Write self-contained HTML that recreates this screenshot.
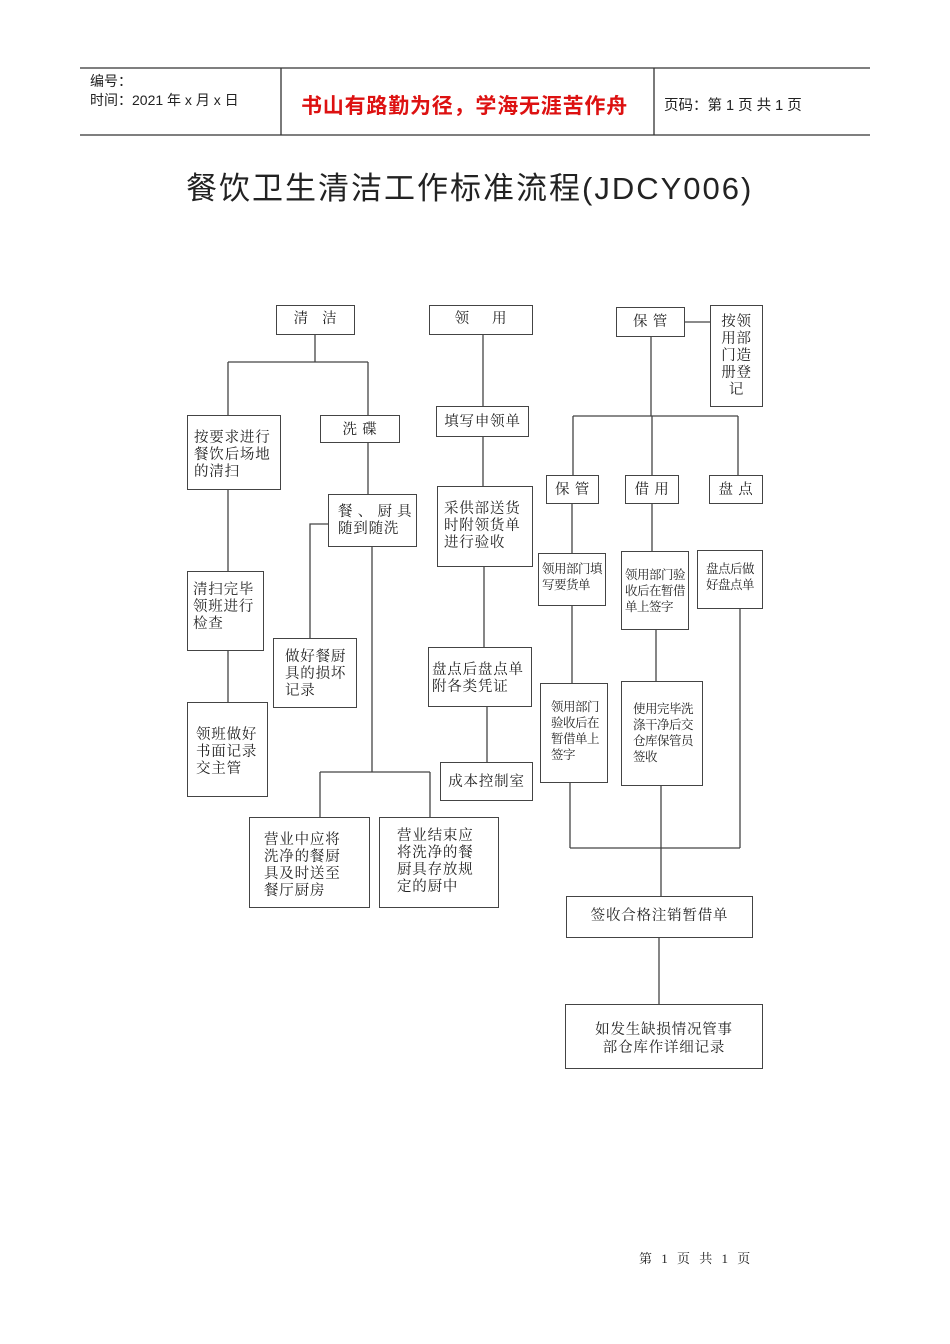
<!DOCTYPE html>
<html><head><meta charset="utf-8"><style>
body{margin:0;width:950px;height:1344px;background:#fff;position:relative;overflow:hidden;font-family:"Liberation Serif","Noto Serif CJK SC",serif;color:#222}
.b{position:absolute;border:1.3px solid #444;box-sizing:border-box;font-size:14.5px;line-height:17px;padding:4px 7px;white-space:nowrap;letter-spacing:0.8px}
.s{font-size:12.5px;line-height:16px;padding:3px 3px;letter-spacing:-0.5px}
.c{text-align:center}
.t{position:absolute;white-space:nowrap}
</style></head><body>
<svg width="950" height="1344" style="position:absolute;left:0;top:0" fill="none" stroke="#444" stroke-width="1.3">
<path d="M80 68H870M80 135H870M281 68V135M654 68V135" stroke="#333"/>
<path d="M315 335V362M228 362H368M228 362V415M368 362V415M228 490V571M228 651V702M368 443V494M328 524H310V638M372 547V772M320 772H430M320 772V817M430 772V817"/>
<path d="M483 335V406M483 437V486M484 567V647M487 707V762"/>
<path d="M651 337V416M685 322H710M573 416H738M573 416V475M652 416V475M738 416V475M572 504V553M572 606V683M652 504V551M570 783V848M570 848H740M740 609V848M656 630V681M661 786V896M659 938V1004"/>
</svg>
<div class="t" style="left:90px;top:71px;font-family:'Liberation Sans','Noto Sans CJK SC',sans-serif;font-size:14px">编号：</div>
<div class="t" style="left:90px;top:90px;font-family:'Liberation Sans','Noto Sans CJK SC',sans-serif;font-size:14px">时间：2021 年 x 月 x 日</div>
<div class="t" style="left:301px;top:90px;color:#d11;font-weight:bold;font-size:21px;letter-spacing:0.8px;font-family:'Noto Sans CJK SC',sans-serif">书山有路勤为径，学海无涯苦作舟</div>
<div class="t" style="left:664px;top:94px;font-size:14.5px;font-family:'Liberation Sans','Noto Sans CJK SC',sans-serif">页码：第 1 页 共 1 页</div>
<div class="t" style="left:186px;top:163px;font-size:31px;letter-spacing:2px;font-family:'Liberation Sans','Noto Sans CJK SC',sans-serif">餐饮卫生清洁工作标准流程(JDCY006)</div>

<div class="b c" style="left:276px;top:305px;width:79px;height:30px;padding-top:5px">清 &nbsp; 洁</div>
<div class="b c" style="left:429px;top:305px;width:104px;height:30px;padding-top:5px">领 &nbsp; &nbsp; 用</div>
<div class="b c" style="left:616px;top:307px;width:69px;height:30px;padding-top:6px">保 管</div>
<div class="b c" style="left:710px;top:305px;width:53px;height:102px;padding:8px 2px">按领<br>用部<br>门造<br>册登<br>记</div>
<div class="b" style="left:187px;top:415px;width:94px;height:75px;padding:14px 6px">按要求进行<br>餐饮后场地<br>的清扫</div>
<div class="b c" style="left:320px;top:415px;width:80px;height:28px;padding-top:6px">洗 碟</div>
<div class="b c" style="left:436px;top:406px;width:93px;height:31px;padding:7px 2px">填写申领单</div>
<div class="b" style="left:437px;top:486px;width:96px;height:81px;padding:14px 6px">采供部送货<br>时附领货单<br>进行验收</div>
<div class="b" style="left:328px;top:494px;width:89px;height:53px;padding:9px 9px">餐 、 厨 具<br>随到随洗</div>
<div class="b" style="left:187px;top:571px;width:77px;height:80px;padding:10px 5px">清扫完毕<br>领班进行<br>检查</div>
<div class="b" style="left:273px;top:638px;width:84px;height:70px;padding:10px 11px">做好餐厨<br>具的损坏<br>记录</div>
<div class="b" style="left:428px;top:647px;width:104px;height:60px;padding:14px 3px">盘点后盘点单<br>附各类凭证</div>
<div class="b" style="left:187px;top:702px;width:81px;height:95px;padding:24px 8px">领班做好<br>书面记录<br>交主管</div>
<div class="b c" style="left:440px;top:762px;width:93px;height:39px;padding:11px 2px">成本控制室</div>
<div class="b" style="left:249px;top:817px;width:121px;height:91px;padding:14px 14px">营业中应将<br>洗净的餐厨<br>具及时送至<br>餐厅厨房</div>
<div class="b" style="left:379px;top:817px;width:120px;height:91px;padding:10px 17px">营业结束应<br>将洗净的餐<br>厨具存放规<br>定的厨中</div>
<div class="b c" style="left:546px;top:475px;width:53px;height:29px;padding:6px 2px">保 管</div>
<div class="b c" style="left:625px;top:475px;width:54px;height:29px;padding:6px 2px">借 用</div>
<div class="b c" style="left:709px;top:475px;width:54px;height:29px;padding:6px 2px">盘 点</div>
<div class="b s" style="left:538px;top:553px;width:68px;height:53px;padding-top:7px">领用部门填<br>写要货单</div>
<div class="b s" style="left:621px;top:551px;width:68px;height:79px;padding-top:15px">领用部门验<br>收后在暂借<br>单上签字</div>
<div class="b s c" style="left:697px;top:550px;width:66px;height:59px;padding-top:10px">盘点后做<br>好盘点单</div>
<div class="b s" style="left:540px;top:683px;width:68px;height:100px;padding:15px 10px">领用部门<br>验收后在<br>暂借单上<br>签字</div>
<div class="b s" style="left:621px;top:681px;width:82px;height:105px;padding:19px 11px">使用完毕洗<br>涤干净后交<br>仓库保管员<br>签收</div>
<div class="b c" style="left:566px;top:896px;width:187px;height:42px;padding:11px 2px">签收合格注销暂借单</div>
<div class="b c" style="left:565px;top:1004px;width:198px;height:65px;padding:16px 10px;line-height:18px">如发生缺损情况管事<br>部仓库作详细记录</div>
<div class="t" style="left:639px;top:1248px;font-size:13px;letter-spacing:3px">第 1 页 共 1 页</div>
</body></html>
